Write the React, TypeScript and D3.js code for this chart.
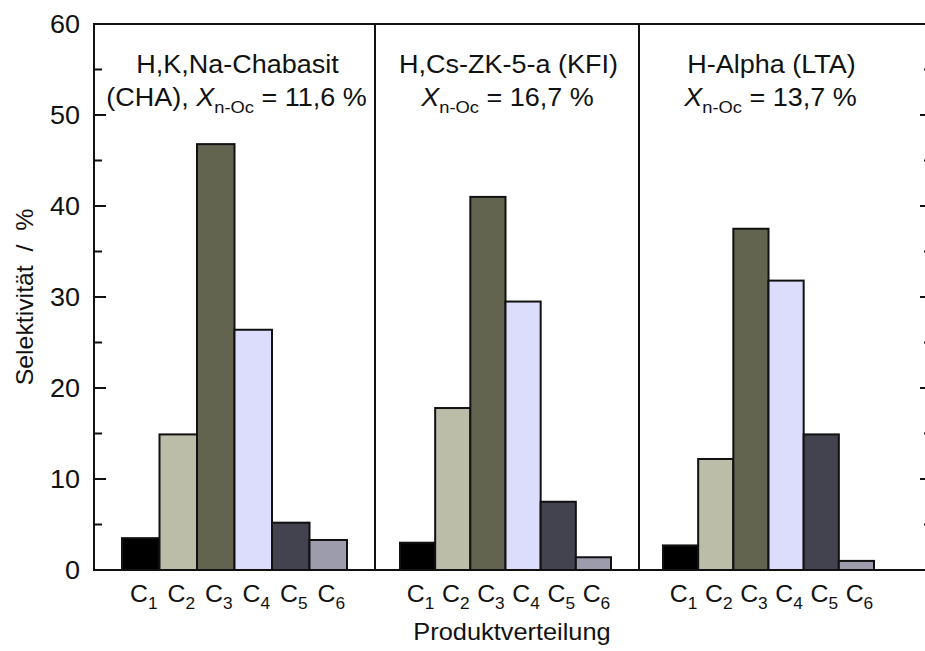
import React from "react";
import * as d3 from "d3";

const categories = ["1", "2", "3", "4", "5", "6"];
const panelTitles = ["H,K,Na-Chabasit", "H,Cs-ZK-5-a (KFI)", "H-Alpha (LTA)"];
const panelPrefix = ["(CHA), ", "", ""];
const conversions = ["11,6 %", "16,7 %", "13,7 %"];
const chaValues = [3.5, 14.9, 46.8, 26.4, 5.2, 3.3];
const kfiValues = [3.0, 17.8, 41.0, 29.5, 7.5, 1.4];
const ltaValues = [2.7, 12.2, 37.5, 31.8, 14.9, 1.0];
const barColors = ["#000000", "#bcbda9", "#636450", "#dcdcfc", "#43434f", "#9c9cad"];
const yMajorTicks = [0, 10, 20, 30, 40, 50, 60];
const yMinorTicks = [5, 15, 25, 35, 45, 55];
const yTitle = "Selektivität  /  %";
const xTitle = "Produktverteilung";

const W = 925, H = 651;
const top = 24, bottom = 570, leftX = 94, rightX = 931;
const panelEdges = [[94, 375], [375, 639], [639, 931]];
const barRanges = [[122, 347], [400, 611], [663, 874]];
const FONT = "'Liberation Sans', Arial, sans-serif";
const SX = 1.08;

function T({ x, y, size, anchor = "middle", children, rotate = 0, style }: any) {
  return (
    <text transform={`translate(${x},${y}) rotate(${rotate}) scale(${SX},1)`} fontSize={size} textAnchor={anchor} fill="#111" style={style}>
      {children}
    </text>
  );
}

export default function App() {
  const y = d3.scaleLinear().domain([0, 60]).range([bottom, top]);
  const series = [chaValues, kfiValues, ltaValues];

  return (
    <svg width={W} height={H} style={{ position: "absolute", left: 0, top: 0, background: "#fff" }} fontFamily={FONT}>
      {series.map((vals, p) => {
        const x = d3.scaleBand<string>().domain(categories).range(barRanges[p] as [number, number]).padding(0);
        const cx = (barRanges[p][0] + barRanges[p][1]) / 2;
        return (
          <g key={p}>
            {vals.map((v, i) => (
              <rect key={i} x={x(categories[i])!} y={y(v)} width={x.bandwidth()} height={y(0) - y(v)}
                fill={barColors[i]} stroke="#111" strokeWidth={2} />
            ))}
            {categories.map((c) => (
              <T key={c} x={x(c)! + x.bandwidth() / 2 + 3} y={602} size={23}>
                C<tspan fontSize={16} dy={7}>{c}</tspan>
              </T>
            ))}
            <T x={cx + 3} y={73} size={25}>{panelTitles[p]}</T>
            <T x={cx + 2} y={106} size={25}>
              {panelPrefix[p]}
              <tspan fontStyle="italic">X</tspan>
              <tspan fontSize={17} dy={7}>n-Oc</tspan>
              <tspan dy={-7}>{" = " + conversions[p]}</tspan>
            </T>
          </g>
        );
      })}
      {panelEdges.slice(1).map((e, i) => (
        <line key={i} x1={e[0]} x2={e[0]} y1={top} y2={bottom} stroke="#111" strokeWidth={2} />
      ))}
      <rect x={leftX} y={top} width={rightX - leftX} height={bottom - top} fill="none" stroke="#111" strokeWidth={2} />
      {yMajorTicks.map((t) => (
        <g key={"M" + t}>
          <line x1={leftX} x2={leftX + 12} y1={y(t)} y2={y(t)} stroke="#111" strokeWidth={2} />
          <line x1={rightX} x2={rightX - 11} y1={y(t)} y2={y(t)} stroke="#111" strokeWidth={2} />
          <T x={80} y={y(t) + 9} size={25} anchor="end">{t}</T>
        </g>
      ))}
      {yMinorTicks.map((t) => (
        <g key={"m" + t}>
          <line x1={leftX} x2={leftX + 8} y1={y(t)} y2={y(t)} stroke="#111" strokeWidth={2} />
          <line x1={rightX} x2={rightX - 7} y1={y(t)} y2={y(t)} stroke="#111" strokeWidth={2} />
        </g>
      ))}
      <T x={33} y={(top + bottom) / 2} rotate={-90} size={23} style={{ whiteSpace: "pre" }}>{yTitle}</T>
      <T x={512} y={640} size={23.5}>{xTitle}</T>
    </svg>
  );
}
